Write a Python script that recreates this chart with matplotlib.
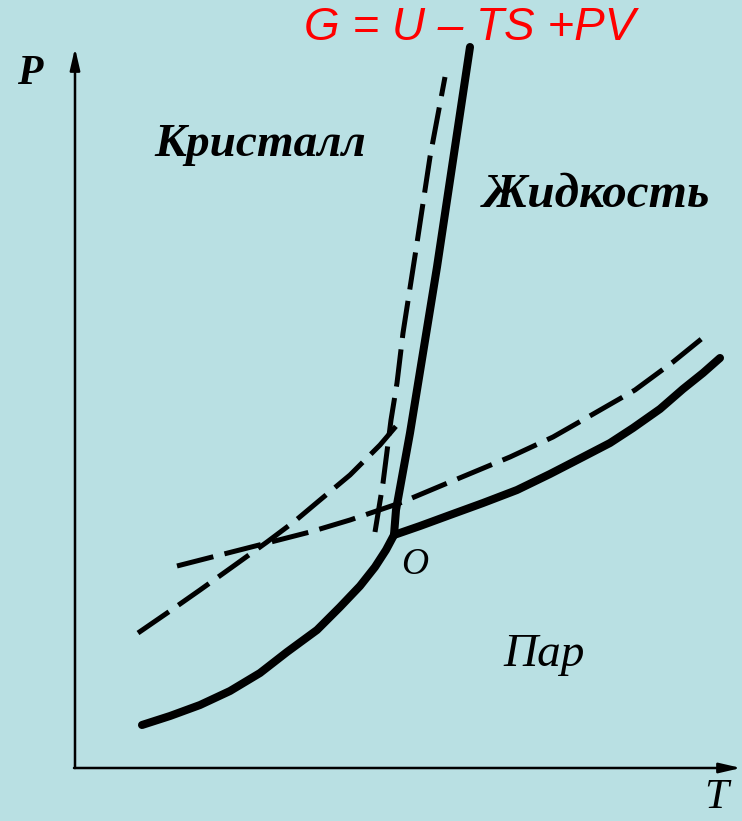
"""
Phase diagram P(T): crystal, liquid and vapour with metastable extensions.
"""
import matplotlib
matplotlib.use('Agg')
import matplotlib.pyplot as plt

BG = '#b9e0e3'

# curves (x = T, y = P in image units, y grows downward)
subl_T = [142, 170, 200, 230, 260, 287, 317, 340, 360, 375, 386, 394]
subl_P = [725, 716, 705, 691, 673, 652, 630, 607, 586, 567, 550, 535]

melt_T = [394, 396, 410, 437, 470]
melt_P = [535, 510, 433, 267, 47]

vap_T = [394, 420, 450, 483, 517, 550, 583, 610, 633, 660, 683, 703, 720]
vap_P = [535, 526, 515, 503, 490, 474, 457, 443, 428, 409, 389, 373, 358]

# metastable continuations (dashed)
melt_ext_T = [375, 383, 391, 397, 403, 417, 430, 445]
melt_ext_P = [532, 483, 420, 383, 333, 243, 157, 77]

subl_ext_T = [138, 170, 200, 235, 267, 295, 320, 350, 380, 403]
subl_ext_P = [633, 611, 590, 565, 542, 521, 500, 475, 445, 418]

vap_ext_T = [177, 220, 267, 310, 350, 400, 450, 510, 553, 595, 635, 673, 710]
vap_ext_P = [566, 555, 543, 532, 520, 503, 482, 457, 437, 413, 390, 362, 332]

# axes origin and ends
axis_T = [75, 741]
axis_P = [768, 48]


def main():
    fig = plt.figure(figsize=(7.42, 8.21), dpi=100, facecolor=BG)
    ax = fig.add_axes([0, 0, 1, 1])
    ax.set_facecolor(BG)
    ax.set_xlim(0, 742)
    ax.set_ylim(821, 0)
    ax.axis('off')

    # coordinate axes with arrows
    arrow = dict(arrowstyle='-|>,head_length=1.3,head_width=0.3',
                 color='black', lw=1.8, shrinkA=0, shrinkB=0)
    ax.annotate('', xy=(axis_T[0], axis_P[1]), xytext=(axis_T[0], axis_P[0]),
                arrowprops=arrow)
    ax.annotate('', xy=(axis_T[1], axis_P[0]), xytext=(axis_T[0] - 1, axis_P[0]),
                arrowprops=arrow)

    solid = dict(color='black', lw=5.8, solid_capstyle='round',
                 solid_joinstyle='round')
    ax.plot(subl_T, subl_P, **solid)
    ax.plot(melt_T, melt_P, **solid)
    ax.plot(vap_T, vap_P, **solid)

    dashed = dict(color='black', lw=3.6, ls=(0, (7.5, 2.3)), dash_capstyle='butt',
                  dash_joinstyle='round')
    ax.plot(melt_ext_T, melt_ext_P, **dashed)
    ax.plot(subl_ext_T, subl_ext_P, **dashed)
    ax.plot(vap_ext_T, vap_ext_P, **dashed)

    serif = dict(family='Liberation Serif', style='italic', color='black')
    ax.text(30, 74, 'P', fontsize=30, weight='bold', ha='center', va='center', **serif)
    ax.text(716, 798, 'T', fontsize=31, ha='center', va='center', **serif)
    ax.text(260, 145, 'Кристалл', fontsize=34, weight='bold', ha='center', va='center', **serif)
    ax.text(597, 195, 'Жидкость', fontsize=35.5, weight='bold', ha='center', va='center', **serif)
    ax.text(544, 655, 'Пар', fontsize=34, ha='center', va='center', **serif)
    ax.text(415, 565, 'O', fontsize=27, ha='center', va='center', **serif)

    ax.text(470, 28, 'G = U – TS +PV', fontsize=33, color='#ff0000',
            family='Liberation Sans', style='italic', ha='center', va='center')

    fig.savefig('out.png', dpi=100, facecolor=BG)
    plt.close()


if __name__ == '__main__':
    main()
